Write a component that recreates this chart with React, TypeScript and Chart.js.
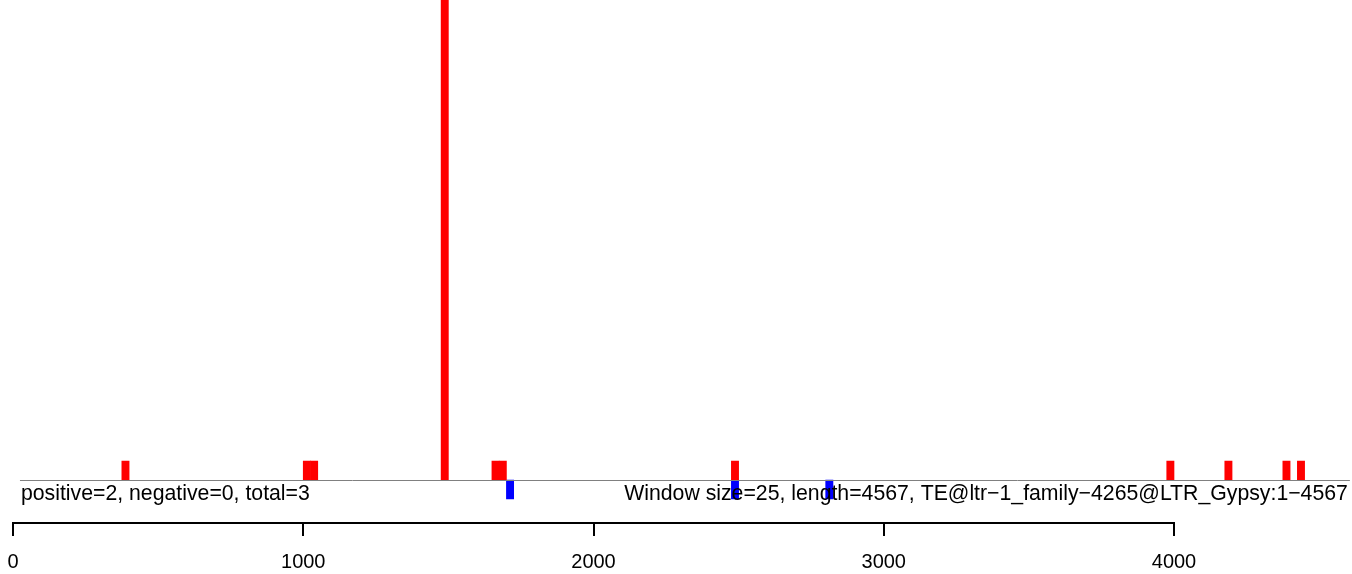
import React, { useEffect, useRef } from "react";
import { Chart, registerables } from "chart.js";

Chart.register(...registerables);

// ---- data ----
const WINDOW_SIZE = 25;
const SEQ_LENGTH = 4567;
const X_AXIS_MAX = 4600; // last window end shown on the scale
const positiveWindowStarts = [375, 1000, 1025, 1475, 1650, 1675, 2475, 3975, 4175, 4375, 4425];
const positiveCounts = [1, 1, 1, 40, 1, 1, 1, 1, 1, 1, 1];
const negativeWindowStarts = [1700, 2475, 2800];
const negativeCounts = [-1, -1, -1];
const xTickValues = [0, 1000, 2000, 3000, 4000];
const leftLabel = "positive=2, negative=0, total=3";
const rightLabel = "Window size=25, length=4567, TE@ltr\u22121_family\u22124265@LTR_Gypsy:1\u22124567";
const BASELINE_FROM = 24;
const BASELINE_TO = 4606;

// window categories
const windowStarts: number[] = [];
for (let s = 0; s < X_AXIS_MAX; s += WINDOW_SIZE) windowStarts.push(s);

function toSeries(starts: number[], counts: number[]) {
  return windowStarts.map((w) => {
    const i = starts.indexOf(w);
    return i >= 0 ? counts[i] : null;
  });
}

const FONT = "'Liberation Sans', Arial, Helvetica, sans-serif";

const overlayPlugin = {
  id: "overlay",
  afterDatasetsDraw(chart: any) {
    const ctx = chart.ctx;
    const xs = chart.scales.x;
    const ys = chart.scales.y;
    const y0 = ys.getPixelForValue(0);
    const x1 = xs.getPixelForValue(BASELINE_FROM);
    const x2 = xs.getPixelForValue(BASELINE_TO);
    ctx.save();
    ctx.strokeStyle = "#808080";
    ctx.lineWidth = 1;
    ctx.beginPath();
    ctx.moveTo(x1, y0 + 0.5);
    ctx.lineTo(x2, y0 + 0.5);
    ctx.stroke();
    ctx.fillStyle = "#000000";
    ctx.font = `21.25px ${FONT}`;
    ctx.textBaseline = "alphabetic";
    ctx.textAlign = "left";
    ctx.fillText(leftLabel, x1 + 1, y0 + 20);
    ctx.textAlign = "right";
    ctx.fillText(rightLabel, x2 - 2, y0 + 20);
    // axis line from first to last tick
    const a1 = xs.getPixelForValue(xTickValues[0]);
    const a2 = xs.getPixelForValue(xTickValues[xTickValues.length - 1]);
    const ay = chart.chartArea.bottom;
    ctx.strokeStyle = "#000000";
    ctx.lineWidth = 2;
    ctx.beginPath();
    ctx.moveTo(a1 - 1, ay);
    ctx.lineTo(a2 + 1, ay);
    ctx.stroke();
    ctx.restore();
  },
};

export default function App() {
  const ref = useRef<HTMLCanvasElement | null>(null);
  useEffect(() => {
    if (!ref.current) return;
    const chart = new Chart(ref.current, {
      type: "bar",
      data: {
        labels: windowStarts.map(String),
        datasets: [
          {
            label: "positive",
            data: toSeries(positiveWindowStarts, positiveCounts),
            backgroundColor: "#ff0000",
            xAxisID: "xc",
            borderWidth: 0,
          },
          {
            label: "negative",
            data: toSeries(negativeWindowStarts, negativeCounts),
            backgroundColor: "#0000ff",
            xAxisID: "xc",
            borderWidth: 0,
          },
        ],
      },
      options: {
        responsive: false,
        animation: false,
        devicePixelRatio: 1,
        layout: { padding: { left: 13, right: 3.85, top: 0, bottom: 0 } },
        datasets: {
          bar: {
            grouped: false,
            barPercentage: 1,
            categoryPercentage: 1,
            skipNull: true,
          },
        },
        plugins: {
          legend: { display: false },
          tooltip: { enabled: false },
        },
        scales: {
          xc: {
            type: "category",
            display: false,
            offset: true,
          },
          x: {
            type: "linear",
            position: "bottom",
            min: 0,
            max: X_AXIS_MAX,
            offset: false,
            afterBuildTicks: (scale: any) => {
              scale.ticks = xTickValues.map((v) => ({ value: v }));
            },
            afterFit: (scale: any) => {
              scale.height = 51;
              scale.paddingLeft = 0;
              scale.paddingRight = 0;
            },
            border: { display: false },
            grid: {
              offset: false,
              drawOnChartArea: false,
              drawTicks: true,
              tickLength: 13,
              color: "#000000",
              lineWidth: 2,
            },
            ticks: {
              color: "#000000",
              font: { family: FONT, size: 20 },
              padding: 14,
              maxRotation: 0,
              autoSkip: false,
              callback: (v: any) => String(v),
            },
          },
          y: {
            display: false,
            min: -43 / 19,
            max: 480 / 19,
          },
        },
      },
      plugins: [overlayPlugin],
    });
    return () => chart.destroy();
  }, []);
  return (
    <div style={{ position: "absolute", left: 0, top: 0, width: 1352, height: 574, background: "#fff" }}>
      <canvas ref={ref} width={1352} height={574} style={{ width: 1352, height: 574, display: "block" }} />
    </div>
  );
}
